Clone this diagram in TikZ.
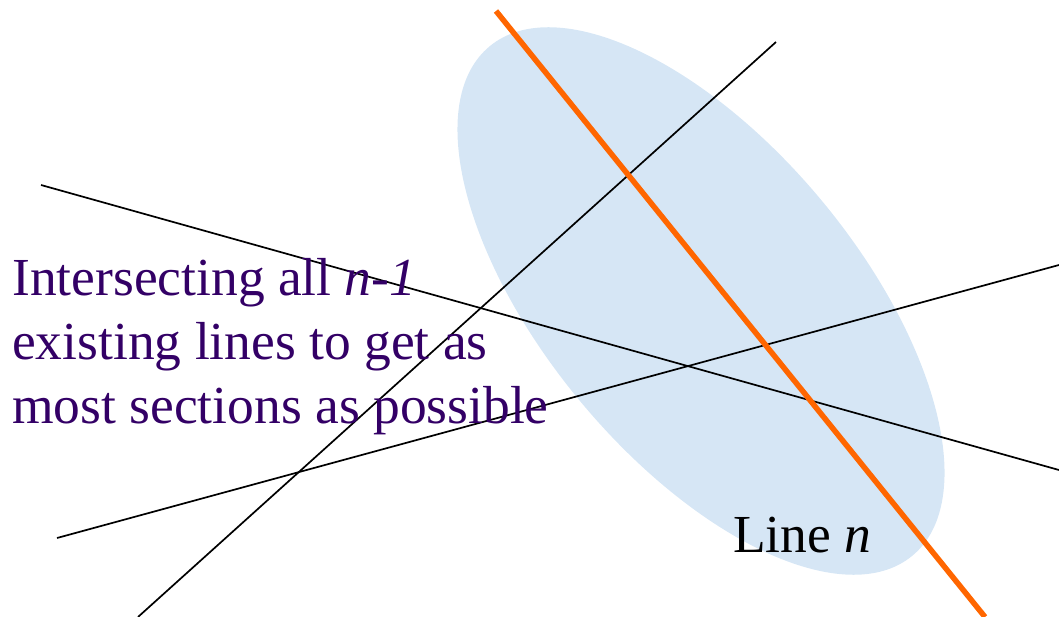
\documentclass[tikz,border=0pt]{standalone}
\usepackage{fontspec}
\setmainfont{Liberation Serif}
\definecolor{tissue}{RGB}{214,230,245}
\definecolor{txtpurple}{RGB}{51,0,102}
\definecolor{lineorange}{RGB}{255,102,0}
\begin{document}
\begin{tikzpicture}[x=1pt,y=-1pt,
  thinline/.style={black,line width=1.7pt},
  orangeline/.style={lineorange,line width=5.5pt},
  bigtext/.style={font=\fontsize{53.5}{64}\selectfont,inner sep=0pt,anchor=base west}]
\useasboundingbox (0,0) rectangle (1059,617);
\clip (0,0) rectangle (1059,617);
\fill[tissue,rotate around={-50.3:(701,301)}] (701,301) ellipse [x radius=331, y radius=157];
\coordinate (a1) at (41,185);
\coordinate (a2) at (1059,470);
\coordinate (b1) at (138,617);
\coordinate (b2) at (776,42);
\coordinate (c1) at (57,538);
\coordinate (c2) at (1059,265);
\coordinate (n1) at (496,11);
\coordinate (n2) at (985,617);
\draw[thinline] (a1) -- (a2);
\draw[thinline] (b1) -- (b2);
\draw[thinline] (c1) -- (c2);
\draw[orangeline] (n1) -- (n2);
\node[bigtext,text=txtpurple] (t1) at (12,295) {Intersecting all \textit{n-1}};
\node[bigtext,text=txtpurple] (t2) at (12,359) {existing lines to get as};
\node[bigtext,text=txtpurple] (t3) at (12,423) {most sections as possible};
\node[bigtext] (ln) at (733,552) {Line \textit{n}};
\end{tikzpicture}
\end{document}
